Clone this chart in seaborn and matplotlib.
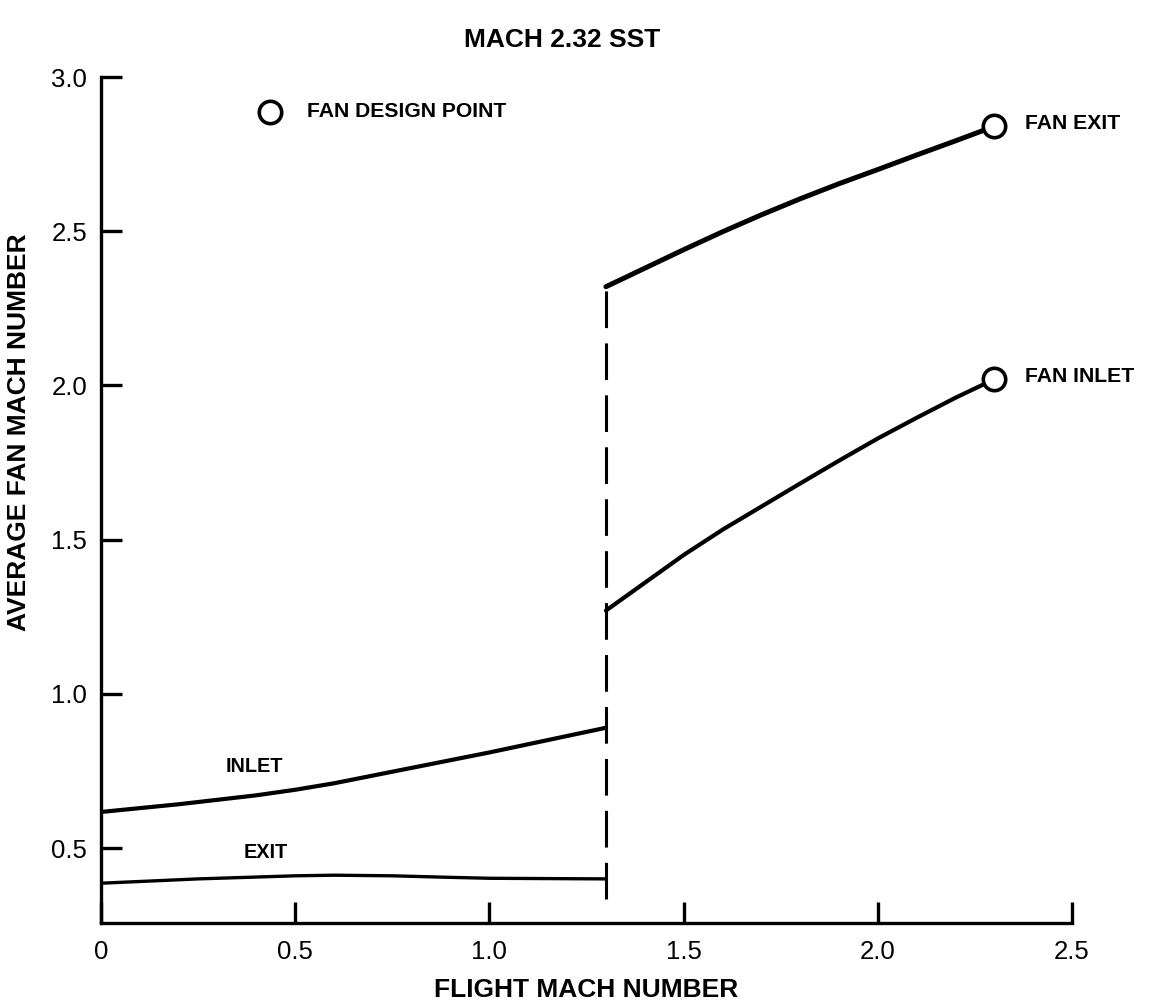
import matplotlib
matplotlib.use("Agg")
import matplotlib.pyplot as plt
import seaborn as sns
import pandas as pd

# ---- data ----
low_mach = [0.0, 0.2, 0.4, 0.5, 0.6, 0.8, 1.0, 1.15, 1.3]
low_inlet = [0.617, 0.642, 0.671, 0.689, 0.71, 0.76, 0.81, 0.85, 0.89]
low_exit_mach = [0.0, 0.25, 0.5, 0.6, 0.75, 0.9, 1.0, 1.3]
low_exit = [0.386, 0.40, 0.41, 0.412, 0.41, 0.405, 0.402, 0.40]

high_mach = [1.3, 1.4, 1.5, 1.6, 1.7, 1.8, 1.9, 2.0, 2.1, 2.2, 2.3]
high_exit = [2.32, 2.38, 2.44, 2.498, 2.553, 2.605, 2.654, 2.70, 2.747, 2.793, 2.84]
high_inlet = [1.27, 1.36, 1.45, 1.532, 1.607, 1.682, 1.756, 1.828, 1.895, 1.96, 2.02]

transition_mach = [1.3, 1.3]
transition_range = [0.335, 2.32]

design_mach = [2.3, 2.3]
design_values = [2.84, 2.02]
design_labels = ["FAN EXIT", "FAN INLET"]

legend_point = [0.435, 2.887]

x_ticks = [0, 0.5, 1.0, 1.5, 2.0, 2.5]
x_ticklabels = ["0", "0.5", "1.0", "1.5", "2.0", "2.5"]
y_ticks = [0.5, 1.0, 1.5, 2.0, 2.5, 3.0]
y_ticklabels = ["0.5", "1.0", "1.5", "2.0", "2.5", "3.0"]

sns.set_theme(style="white")
plt.rcParams['font.family'] = ['Liberation Sans', 'DejaVu Sans']
plt.rcParams['text.color'] = 'black'
plt.rcParams['axes.labelcolor'] = 'black'
plt.rcParams['xtick.color'] = 'black'
plt.rcParams['ytick.color'] = 'black'

fig = plt.figure(figsize=(11.49, 10.02), dpi=100)
ax = fig.add_axes([101/1149, 1-923/1002, (1072-101)/1149, (923-77)/1002])

df_low_inlet = pd.DataFrame({"mach": low_mach, "value": low_inlet})
df_low_exit = pd.DataFrame({"mach": low_exit_mach, "value": low_exit})
df_high = pd.DataFrame({"mach": high_mach, "inlet": high_inlet, "exit": high_exit})

sns.lineplot(data=df_low_inlet, x="mach", y="value", ax=ax, color="black", lw=3.0)
sns.lineplot(data=df_low_exit, x="mach", y="value", ax=ax, color="black", lw=2.4)
sns.lineplot(data=df_high, x="mach", y="exit", ax=ax, color="black", lw=3.6)
sns.lineplot(data=df_high, x="mach", y="inlet", ax=ax, color="black", lw=3.0)
sns.lineplot(x=transition_mach, y=transition_range, ax=ax, color="black", lw=2.2,
             estimator=None, sort=False, dashes=False, linestyle=(0, (12, 5)))

sns.scatterplot(x=design_mach, y=design_values, ax=ax, marker="o", s=260,
                facecolor="white", edgecolor="black", linewidth=2.6, zorder=5)
sns.scatterplot(x=[legend_point[0]], y=[legend_point[1]], ax=ax, marker="o", s=260,
                facecolor="white", edgecolor="black", linewidth=2.6, zorder=5)

txt_kw = dict(fontsize=15.2, fontweight="bold", color="black", va="center")
ax.text(legend_point[0] + 0.095, legend_point[1], "FAN DESIGN POINT", **txt_kw)
for yv, lab in zip(design_values, design_labels):
    ax.text(design_mach[0] + 0.08, yv + 0.01, lab, **txt_kw)
small_kw = dict(txt_kw, fontsize=14.3)
ax.text(0.396, 0.763, "INLET", ha="center", **small_kw)
ax.text(0.425, 0.487, "EXIT", ha="center", **small_kw)

ax.set_xlim(0, 2.5)
ax.set_ylim(0.257, 3.0)
ax.set_xticks(x_ticks)
ax.set_xticklabels(x_ticklabels)
ax.set_yticks(y_ticks)
ax.set_yticklabels(y_ticklabels)

for s in ["top", "right"]:
    ax.spines[s].set_visible(False)
for s in ["left", "bottom"]:
    ax.spines[s].set_color("black")
    ax.spines[s].set_linewidth(2.4)

ax.tick_params(axis="both", which="major", bottom=True, left=True, direction="in",
               length=15, width=2.4, color="black", labelsize=18.5, labelcolor="black")
ax.tick_params(axis="x", pad=12)
ax.tick_params(axis="y", pad=10)
ax.set_xlabel("FLIGHT MACH NUMBER", fontsize=19, fontweight="bold")
ax.xaxis.set_label_coords(0.5, -0.065)
ax.set_ylabel("AVERAGE FAN MACH NUMBER", fontsize=19, fontweight="bold")
ax.yaxis.set_label_coords(-0.072, 0.58)
ax.set_facecolor("white")
ax.grid(False)

fig.text(562/1149, 1-40/1002, "MACH 2.32 SST", ha="center", va="center",
         fontsize=19, fontweight="bold", family=['Liberation Sans Narrow', 'Liberation Sans'])

fig.savefig("out.png", dpi=100, facecolor="white")
